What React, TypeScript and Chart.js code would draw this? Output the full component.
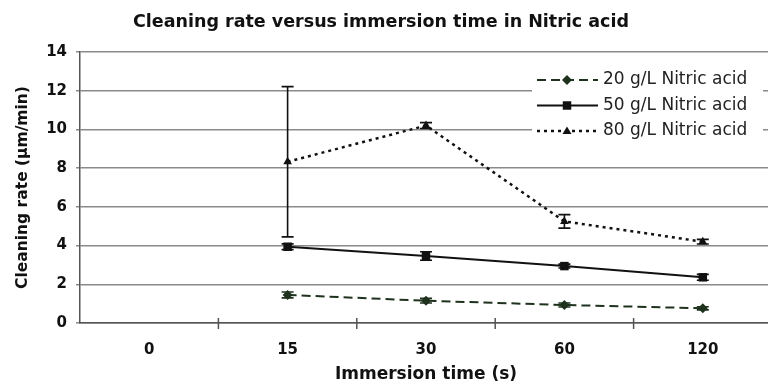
import { useEffect, useRef } from 'react';
import { Chart, registerables } from 'chart.js';

Chart.register(...registerables);

// Immersion times (s) on the category axis
const immersionTimes = ['0', '15', '30', '60', '120'];

// Mean cleaning rate (µm/min) for each nitric acid concentration
const rate20 = [null, 1.45, 1.15, 0.93, 0.76];
const rate50 = [null, 3.94, 3.46, 2.94, 2.36];
const rate80 = [null, 8.33, 10.2, 5.25, 4.2];

// Half-width of each error bar (µm/min)
const err20 = [null, 0.15, 0.12, 0.1, 0.08];
const err50 = [null, 0.15, 0.22, 0.1, 0.15];
const err80 = [null, 3.88, 0.15, 0.35, 0.12];

const seriesLabels = ['20 g/L Nitric acid', '50 g/L Nitric acid', '80 g/L Nitric acid'];

const chartTitle = 'Cleaning rate versus immersion time in Nitric acid';
const xTitle = 'Immersion time (s)';
const yTitle = 'Cleaning rate (µm/min)';

const FONT = '"DejaVu Sans", "Liberation Sans", Arial, sans-serif';

function drawMarker(ctx: CanvasRenderingContext2D, style: string, x: number, y: number, r: number, color: string) {
  ctx.save();
  ctx.setLineDash([]);
  ctx.fillStyle = color;
  ctx.beginPath();
  if (style === 'rectRot') {
    ctx.moveTo(x, y - r);
    ctx.lineTo(x + r, y);
    ctx.lineTo(x, y + r);
    ctx.lineTo(x - r, y);
  } else if (style === 'rect') {
    const s = r * Math.SQRT1_2;
    ctx.rect(x - s, y - s, 2 * s, 2 * s);
  } else {
    const h = r * 1.5;
    ctx.moveTo(x, y - h * 0.6);
    ctx.lineTo(x + r * 0.9, y + h * 0.4);
    ctx.lineTo(x - r * 0.9, y + h * 0.4);
  }
  ctx.closePath();
  ctx.fill();
  ctx.restore();
}

// Vertical error bars with caps, from the per-series half-widths
const errorBarsPlugin = {
  id: 'errorBars',
  afterDatasetsDraw(chart: any, _args: any, opts: any) {
    const { ctx, scales } = chart;
    const x = scales.x;
    const y = scales.y;
    chart.data.datasets.forEach((ds: any, i: number) => {
      const errs = opts.errors[i];
      ds.data.forEach((v: number | null, j: number) => {
        const e = errs[j];
        if (v == null || e == null) return;
        const px = x.getPixelForValue(j);
        const top = y.getPixelForValue(v + e);
        const bot = y.getPixelForValue(v - e);
        ctx.save();
        ctx.strokeStyle = ds.borderColor;
        ctx.lineWidth = 1.6;
        ctx.setLineDash([]);
        ctx.beginPath();
        ctx.moveTo(px, top);
        ctx.lineTo(px, bot);
        ctx.moveTo(px - 6, top);
        ctx.lineTo(px + 6, top);
        ctx.moveTo(px - 6, bot);
        ctx.lineTo(px + 6, bot);
        ctx.stroke();
        ctx.restore();
      });
    });
  },
};

// Chart title, cross tick marks between categories and the series key
const decorPlugin = {
  id: 'decor',
  afterDraw(chart: any) {
    const { ctx, scales } = chart;
    const x = scales.x;
    const y = scales.y;

    ctx.save();
    ctx.fillStyle = '#111';
    ctx.font = `bold 17.5px ${FONT}`;
    ctx.textAlign = 'center';
    ctx.textBaseline = 'middle';
    ctx.fillText(chartTitle, 381, 22);
    ctx.restore();

    // tick marks crossing the category axis between labels
    ctx.save();
    ctx.strokeStyle = '#555';
    ctx.lineWidth = 1.5;
    for (let k = 1; k < immersionTimes.length; k++) {
      const px = (x.getPixelForValue(k - 1) + x.getPixelForValue(k)) / 2;
      ctx.beginPath();
      ctx.moveTo(px, y.bottom - 5);
      ctx.lineTo(px, y.bottom + 6);
      ctx.stroke();
    }
    ctx.restore();

    // series key
    const boxLeft = 532;
    const boxTop = 63;
    ctx.save();
    ctx.fillStyle = '#ffffff';
    ctx.fillRect(boxLeft, boxTop, 231, 82);
    const rows = [80, 105.5, 131];
    chart.data.datasets.forEach((ds: any, i: number) => {
      const ry = rows[i];
      ctx.strokeStyle = ds.borderColor;
      ctx.lineWidth = ds.borderWidth;
      ctx.setLineDash(ds.borderDash || []);
      ctx.beginPath();
      ctx.moveTo(537, ry);
      ctx.lineTo(598, ry);
      ctx.stroke();
      drawMarker(ctx, ds.pointStyle, 567, ry, ds.pointRadius, ds.pointBackgroundColor);
      ctx.fillStyle = '#222';
      ctx.font = `17px ${FONT}`;
      ctx.textAlign = 'left';
      ctx.textBaseline = 'middle';
      ctx.fillText(ds.label, 603, ry);
    });
    ctx.restore();
  },
};

export default function App() {
  const canvasRef = useRef<HTMLCanvasElement | null>(null);

  useEffect(() => {
    const canvas = canvasRef.current;
    if (!canvas) return;
    const chart = new Chart(canvas, {
      type: 'line',
      data: {
        labels: immersionTimes,
        datasets: [
          {
            label: seriesLabels[0],
            data: rate20,
            borderColor: '#1e321e',
            borderWidth: 2,
            borderDash: [9, 5],
            pointStyle: 'rectRot',
            pointRadius: 5,
            pointBackgroundColor: '#1e321e',
            pointBorderColor: '#1e321e',
            pointBorderWidth: 0,
            fill: false,
            tension: 0,
          },
          {
            label: seriesLabels[1],
            data: rate50,
            borderColor: '#111111',
            borderWidth: 2,
            borderDash: [],
            pointStyle: 'rect',
            pointRadius: 6,
            pointBackgroundColor: '#111111',
            pointBorderColor: '#111111',
            pointBorderWidth: 0,
            fill: false,
            tension: 0,
          },
          {
            label: seriesLabels[2],
            data: rate80,
            borderColor: '#111111',
            borderWidth: 2.5,
            borderDash: [3, 4],
            pointStyle: 'triangle',
            pointRadius: 5,
            pointBackgroundColor: '#111111',
            pointBorderColor: '#111111',
            pointBorderWidth: 0,
            fill: false,
            tension: 0,
          },
        ],
      },
      options: {
        responsive: false,
        animation: false,
        devicePixelRatio: 1,
        layout: { padding: { top: 52, right: 28, bottom: 0, left: 0 } },
        plugins: {
          legend: { display: false },
          title: { display: false },
          tooltip: { enabled: false },
          errorBars: { errors: [err20, err50, err80] },
        } as any,
        scales: {
          x: {
            type: 'category',
            offset: true,
            grid: { display: false, drawTicks: false, offset: true },
            border: { display: true, color: '#555', width: 1.5 },
            ticks: {
              color: '#111',
              padding: 18,
              font: { family: FONT, size: 15, weight: 'bold' },
            },
            title: {
              display: true,
              text: xTitle,
              color: '#111',
              font: { family: FONT, size: 17, weight: 'bold' },
              padding: { top: 0, bottom: 4 },
            },
            afterFit(s: any) {
              s.height = 66;
            },
          },
          y: {
            min: 0,
            max: 14,
            ticks: {
              stepSize: 2,
              color: '#111',
              padding: 9,
              font: { family: FONT, size: 15, weight: 'bold' },
            },
            grid: { color: '#8a8a8a', lineWidth: 1.5, tickLength: 4, drawTicks: true },
            border: { display: true, color: '#555', width: 1.5 },
            title: {
              display: true,
              text: yTitle,
              color: '#111',
              font: { family: FONT, size: 15.5, weight: 'bold' },
              padding: { top: 14, bottom: 0 },
            },
            afterFit(s: any) {
              s.width = 80;
            },
          },
        },
      },
      plugins: [errorBarsPlugin, decorPlugin],
    });
    return () => chart.destroy();
  }, []);

  return (
    <div
      style={{
        position: 'fixed',
        left: 0,
        top: 0,
        width: 768,
        height: 389,
        overflow: 'hidden',
        background: '#ffffff',
      }}
    >
      <canvas ref={canvasRef} width={800} height={389} style={{ display: 'block', width: 800, height: 389 }} />
    </div>
  );
}
